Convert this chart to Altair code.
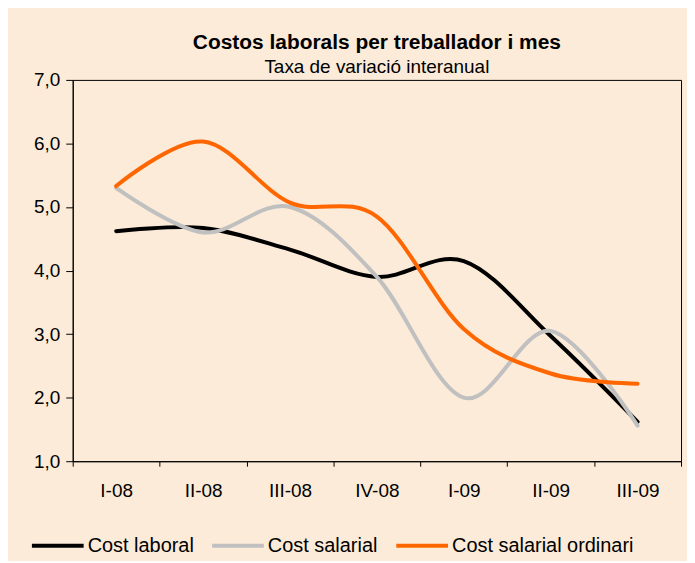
import altair as alt
import pandas as pd

quarters = ["I-08", "II-08", "III-08", "IV-08", "I-09", "II-09", "III-09"]
cost_laboral = [4.62, 4.67, 4.33, 3.90, 4.15, 2.97, 1.62]
cost_salarial = [5.30, 4.60, 5.00, 3.90, 2.00, 3.05, 1.56]
cost_salarial_ordinari = [5.33, 6.03, 5.07, 4.85, 3.08, 2.38, 2.22]
series_names = ["Cost laboral", "Cost salarial", "Cost salarial ordinari"]
series_colors = ["#000000", "#C0C0C0", "#FF6600"]

rows = []
for name, vals in zip(series_names, [cost_laboral, cost_salarial, cost_salarial_ordinari]):
    for q, v in zip(quarters, vals):
        rows.append({"Trimestre": q, "Valor": v, "Serie": name})
df = pd.DataFrame(rows)

FONT = "Liberation Sans"

chart = alt.Chart(df).mark_line(
    interpolate="cardinal", strokeWidth=4, strokeCap="round"
).encode(
    x=alt.X("Trimestre:N", sort=quarters, title=None,
            scale=alt.Scale(paddingInner=0, paddingOuter=0),
            axis=alt.Axis(labelAngle=0, tickBand="extent", tickSize=5,
                          labelPadding=15, labelFontSize=19, labelFont=FONT,
                          labelColor="#000000", domainColor="#000000",
                          tickColor="#000000", grid=False)),
    y=alt.Y("Valor:Q", title=None,
            scale=alt.Scale(domain=[1, 7], nice=False, zero=False),
            axis=alt.Axis(values=[1, 2, 3, 4, 5, 6, 7], tickSize=7,
                          labelPadding=6, labelFontSize=19, labelFont=FONT,
                          labelColor="#000000", domainColor="#000000",
                          tickColor="#000000", grid=False,
                          labelExpr="replace(format(datum.value, '.1f'), '.', ',')")),
    color=alt.Color("Serie:N", sort=series_names,
                    scale=alt.Scale(domain=series_names, range=series_colors),
                    legend=alt.Legend(title=None, orient="none", direction="horizontal",
                                      legendX=-43, legendY=440,
                                      symbolType="stroke", symbolSize=2700,
                                      symbolStrokeWidth=4, labelFontSize=20,
                                      labelFont=FONT, labelColor="#000000",
                                      labelLimit=400,
                                      labelOffset=2, columnPadding=10)),
).properties(
    width=611,
    height=383,
    autosize=alt.AutoSizeParams(type="none"),
    padding={"left": 65, "top": 71, "right": 6, "bottom": 99},
    background="#FBEBD8",
    title=alt.TitleParams(
        text="Costos laborals per treballador i mes",
        subtitle="Taxa de variació interanual",
        font=FONT, fontSize=21, fontWeight="bold", color="#000000",
        subtitleFont=FONT, subtitleFontSize=19, subtitleColor="#000000",
        subtitlePadding=5, anchor="middle", offset=-6,
    ),
).configure_view(
    stroke="#000000", strokeWidth=1
)

chart.save("out.html", embed_options={"renderer": "svg", "actions": False})
